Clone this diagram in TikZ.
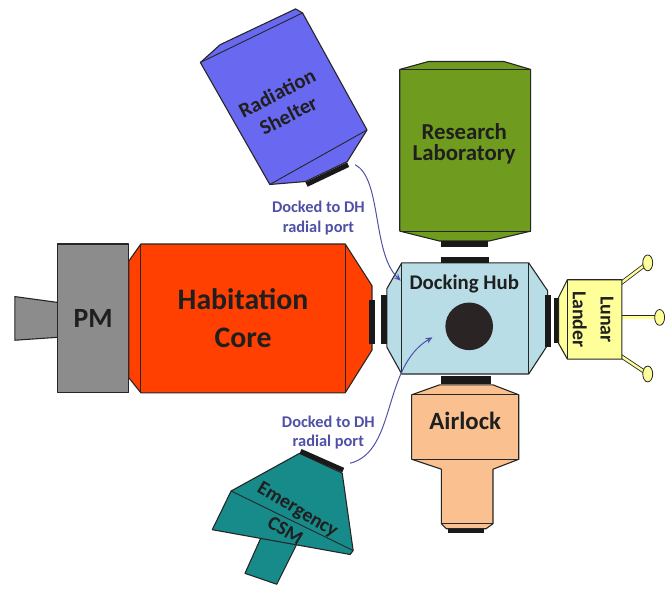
\documentclass[tikz,border=0pt]{standalone}
\usepackage{fontspec}
\setmainfont{Carlito}
\usetikzlibrary{arrows.meta}

\definecolor{pmgray}{HTML}{8C8C8C}
\definecolor{habred}{HTML}{FF4000}
\definecolor{hubblue}{HTML}{B8DDE6}
\definecolor{hubdark}{HTML}{2A2424}
\definecolor{labgreen}{HTML}{6F9B1F}
\definecolor{shelterblue}{HTML}{6868F0}
\definecolor{csmteal}{HTML}{178A8A}
\definecolor{landeryellow}{HTML}{FFFF99}
\definecolor{airlockorange}{HTML}{FAC090}
\definecolor{notecolor}{HTML}{5050A8}
\definecolor{outline}{HTML}{262626}

% bold label font: size, line spacing
\newcommand{\modfont}[2]{\fontsize{#1}{#2}\selectfont\bfseries}

\begin{document}
\begin{tikzpicture}[x=1pt, y=-1pt,
  module/.style={draw=outline, line width=1.1pt, line join=round},
  seam/.style={draw=outline, line width=0.9pt},
  port/.style={fill=black!90, draw=none},
  title/.style={align=center, inner sep=0pt, text=black!88},
  note/.style={align=center, inner sep=0pt, text=notecolor, font=\modfont{16.5}{20}},
  dock/.style={-{Stealth[length=7pt, width=6pt]}, draw=notecolor, line width=1pt},
  leg/.style={draw=outline, line width=0.8pt, double=landeryellow, double distance=2.4pt},
]
\path[fill=white] (0,0) rectangle (665,596);

% propulsion module
\draw[module, fill=pmgray] (15,299) -- (59,305) -- (59,340) -- (15,343) -- cycle;
\draw[module, fill=pmgray] (58,246) rectangle (130,396);
\node[title, font=\modfont{28}{30}] (pm) at (94,321) {PM};

% habitation core
\draw[module, fill=habred] (130,263) -- (142,246) -- (348,246) -- (375,288) -- (375,353)
  -- (348,396) -- (142,396) -- (130,381) -- cycle;
\draw[seam] (142,246) -- (142,396) (348,246) -- (348,396);
\fill[port] (372,302) rectangle (378,347);
\node[title, font=\modfont{30}{38}] (hab) at (245,321) {Habitation\\Core};

% docking hub
\draw[module, fill=hubblue] (390,291) -- (405,265) -- (533,265) -- (552,293) -- (552,348)
  -- (533,377) -- (405,377) -- (390,350) -- cycle;
\draw[seam] (405,265) -- (405,377) (533,265) -- (533,377);
\fill[port] (384,297) rectangle (390,347);
\fill[port] (549,297) rectangle (555,350);
\fill[port] (445,259) rectangle (493,265);
\fill[port] (445,379) rectangle (495,387);
\node[circle, fill=hubdark, minimum size=48pt, inner sep=0pt] (hatch) at (473,329) {};
\node[title, font=\modfont{21}{21}, anchor=base] (hub) at (468,292) {Docking Hub};

% research laboratory
\draw[module, fill=labgreen] (403,70) -- (432,62) -- (508,62) -- (535,70) -- (535,233)
  -- (493,243) -- (443,243) -- (403,233) -- cycle;
\draw[seam] (403,70) -- (535,70) (403,233) -- (535,233);
\fill[port] (445,243) rectangle (492,249);
\node[title, font=\modfont{23}{22}] (lab) at (468,145) {Research\\Laboratory};

% airlock
\draw[module, fill=airlockorange] (443,388) -- (497,388) -- (523,398) -- (523,463) -- (497,473)
  -- (497,528) -- (490,533) -- (450,533) -- (445,528) -- (445,473) -- (415,463) -- (415,398) -- cycle;
\draw[seam] (415,398) -- (523,398) (415,463) -- (523,463) (445,528) -- (497,528);
\fill[port] (452,533) rectangle (488,537);
\node[title, font=\modfont{25}{25}, anchor=base] (airlock) at (469,433) {Airlock};

% lunar lander with its legs
\coordinate (foot1) at (653,265);
\coordinate (foot2) at (665,320);
\coordinate (foot3) at (653,377);
\draw[leg] (620,290) -- (foot1);
\draw[leg] (620,320) -- (foot2);
\draw[leg] (620,355) -- (foot3);
\draw[module, fill=landeryellow] (563,300) -- (572,282) -- (627,282) -- (627,362) -- (572,362)
  -- (563,346) -- cycle;
\draw[seam] (572,282) -- (572,362);
\fill[port] (558,300) rectangle (563,346);
\foreach \f in {foot1,foot2,foot3}
  \draw[module, line width=0.8pt, fill=landeryellow] (\f) ellipse [x radius=5, y radius=8];
\node[title, font=\modfont{20}{28}, rotate=-90] (lander) at (598,322) {Lunar\\Lander};

% radiation shelter
\draw[module, fill=shelterblue] (202,63) -- (222,45) -- (298,9) -- (305,13) -- (370,131)
  -- (350,163) -- (308,183) -- (272,186) -- cycle;
\draw[seam] (202,63) -- (305,13) (272,186) -- (370,131);
\draw[black!90, line width=5pt] (309,186) -- (351,166);
\node[title, font=\modfont{21}{25}, rotate=27] (shelter) at (285,105) {Radiation\\Shelter};

% emergency CSM
\draw[module, fill=csmteal] (264,540) -- (300,547) -- (279,589) -- (247,578) -- cycle;
\draw[module, fill=csmteal] (302,457) -- (345,477) -- (356,555) -- (353,559) -- (214,534)
  -- (233,495) -- cycle;
\draw[seam] (233,495) -- (356,555);
\draw[black!90, line width=5pt] (303,455) -- (346,474);
\node[title, font=\modfont{20}{25}, rotate=-31] (csm) at (294,524) {Emergency\\CSM};

% radial docking notes
\coordinate (shelterport) at (358,166);
\coordinate (csmport) at (353,467);
\coordinate (hubtop) at (404,283);
\coordinate (hubside) at (436,340);
\draw[dock] (shelterport) .. controls (385,180) and (375,255) .. (hubtop);
\draw[dock] (csmport) .. controls (400,455) and (385,370) .. (hubside);
\node[note] (noteup) at (321,220) {Docked to DH\\radial port};
\node[note] (notedown) at (331,436) {Docked to DH\\radial port};
\end{tikzpicture}
\end{document}
